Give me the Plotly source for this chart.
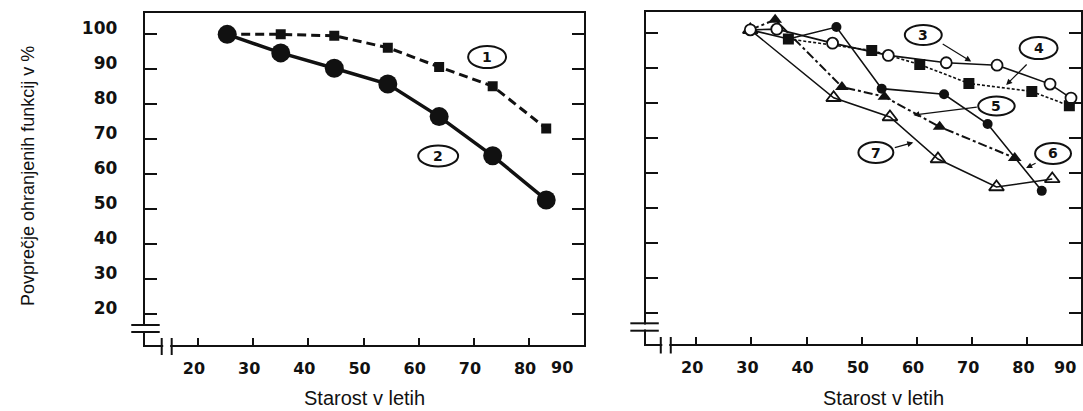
import plotly.graph_objects as go

# ---------------- data ----------------
# Left panel
AGE_L1 = [25.3, 35.0, 44.7, 54.4, 63.7, 73.4, 83.1]
VAL_L1 = [100, 100, 99.6, 96.2, 90.7, 85.2, 73.1]          # (1) squares, dashed
AGE_L2 = [25.3, 35.0, 44.7, 54.4, 63.7, 73.4, 83.1]
VAL_L2 = [100, 94.7, 90.3, 85.8, 76.5, 65.3, 52.7]         # (2) big circles, solid

# Right panel
AGE_3 = [29.8, 34.6, 44.7, 54.8, 65.3, 74.5, 84.1, 87.9]
VAL_3 = [101, 101.2, 97.2, 93.7, 91.6, 90.9, 85.5, 81.5]   # (3) open circles
AGE_4 = [36.7, 51.8, 60.5, 69.4, 80.8, 87.6]
VAL_4 = [98.4, 95.1, 91.1, 85.7, 83.4, 79.3]               # (4) filled squares, dotted
AGE_5 = [29.8, 34.3, 46.4, 54.1, 64.1, 77.7]
VAL_5 = [101, 103.9, 84.7, 81.9, 73.3, 64.4]               # (5) filled triangles, dash-dot
AGE_6 = [29.8, 36.7, 45.4, 53.6, 64.9, 72.8, 82.6]
VAL_6 = [101, 98.4, 101.8, 84.2, 82.6, 74.1, 55.0]         # (6) filled circles
AGE_7 = [29.8, 44.9, 55.1, 63.8, 74.4, 84.5]
VAL_7 = [101, 81.6, 76.1, 64.1, 56.1, 58.4]                # (7) open triangles

X_TICKS = [20, 30, 40, 50, 60, 70, 80, 90]
Y_TICKS = [20, 30, 40, 50, 60, 70, 80, 90, 100]
Y_TITLE = "Povprečje ohranjenih funkcij v %"
X_TITLE = "Starost v letih"

# ---------------- layout helpers ----------------
W, H = 1083, 411
def px(x):
    return x / W
def py(y):
    return 1 - y / H

INK = "#111111"
XTICKFONT = dict(family="DejaVu Sans", size=16, color=INK, weight="bold")
YTICKFONT = dict(family="DejaVu Sans", size=17, color=INK, weight="bold")

fig = go.Figure()

# left panel traces
fig.add_trace(go.Scatter(x=AGE_L1, y=VAL_L1, mode="lines+markers",
                         line=dict(color=INK, width=3, dash="9px,5px"),
                         marker=dict(symbol="square", size=10, color=INK),
                         xaxis="x", yaxis="y"))
fig.add_trace(go.Scatter(x=AGE_L2, y=VAL_L2, mode="lines+markers",
                         line=dict(color=INK, width=3.5),
                         marker=dict(symbol="circle", size=19, color=INK),
                         xaxis="x", yaxis="y"))

# right panel traces
fig.add_trace(go.Scatter(x=AGE_7, y=VAL_7, mode="lines+markers",
                         line=dict(color=INK, width=1.5),
                         marker=dict(symbol="triangle-up-open", size=13, color=INK, line=dict(width=1.8)),
                         xaxis="x2", yaxis="y2"))
fig.add_trace(go.Scatter(x=AGE_5, y=VAL_5, mode="lines+markers",
                         line=dict(color=INK, width=2, dash="dashdot"),
                         marker=dict(symbol="triangle-up", size=12, color=INK),
                         xaxis="x2", yaxis="y2"))
fig.add_trace(go.Scatter(x=AGE_4, y=VAL_4, mode="lines+markers",
                         line=dict(color=INK, width=1.6, dash="3px,2px"),
                         marker=dict(symbol="square", size=11, color=INK),
                         xaxis="x2", yaxis="y2"))
fig.add_trace(go.Scatter(x=AGE_6, y=VAL_6, mode="lines+markers",
                         line=dict(color=INK, width=1.6),
                         marker=dict(symbol="circle", size=10, color=INK),
                         xaxis="x2", yaxis="y2"))
fig.add_trace(go.Scatter(x=AGE_3, y=VAL_3, mode="lines+markers",
                         line=dict(color=INK, width=1.6),
                         marker=dict(symbol="circle", size=11, color="white", line=dict(color=INK, width=1.8)),
                         xaxis="x2", yaxis="y2"))

x_common = dict(showgrid=False, zeroline=False, showline=True, linecolor=INK, linewidth=2,
                mirror=True, ticks="inside", ticklen=7, tickwidth=2, tickcolor=INK,
                tickmode="array", tickvals=X_TICKS[:-1], ticktext=[str(v) for v in X_TICKS[:-1]],
                tickfont=XTICKFONT, ticklabelstandoff=8, ticklabelshift=-4, fixedrange=True)
y_common = dict(showgrid=False, zeroline=False, showline=True, linecolor=INK, linewidth=2,
                mirror="ticks", ticks="inside", ticklen=12, tickwidth=2, tickcolor=INK,
                tickmode="array", tickvals=Y_TICKS, ticktext=[str(v) for v in Y_TICKS],
                tickfont=YTICKFONT, range=[11.25, 106.1], fixedrange=True)

fig.update_layout(
    width=W, height=H, margin=dict(l=0, r=0, t=0, b=0),
    paper_bgcolor="white", plot_bgcolor="white", showlegend=False,
    xaxis=dict(x_common, domain=[px(145), px(585)], range=[10.36, 89.93], anchor="y"),
    yaxis=dict(y_common, domain=[py(345), py(13)], anchor="x",
               ticklabelstandoff=22, ticklabelshift=-6),
    xaxis2=dict(x_common, domain=[px(647.5), 1.0], range=[10.96, 89.71], anchor="y2"),
    yaxis2=dict(y_common, domain=[py(344), py(12)], anchor="x2", showticklabels=False),
)

shapes = []
def seg(x0, y0, x1, y1, w=2):
    shapes.append(dict(type="line", xref="paper", yref="paper", x0=px(x0), y0=py(y0),
                       x1=px(x1), y1=py(y1), line=dict(color=INK, width=w), layer="above"))
def white(x0, y0, x1, y1):
    shapes.append(dict(type="rect", xref="paper", yref="paper", x0=px(x0), y0=py(y1),
                       x1=px(x1), y1=py(y0), fillcolor="white", line=dict(width=0), layer="above"))

# axis breaks, left panel
white(139, 326, 151, 331)
seg(131.5, 325, 160, 325)
seg(131.5, 332, 160, 332)
white(163.5, 342, 170.5, 348)
seg(162, 338, 162, 355)
seg(172, 338, 172, 355)
# axis breaks, right panel
white(641, 324.5, 654, 329.5)
seg(631.5, 323.3, 660, 323.3)
seg(631.5, 330.7, 660, 330.7)
white(663.5, 341, 670.5, 347)
seg(662, 337, 662, 353.5)
seg(672, 337, 672, 353.5)

annotations = []
def text(t, x, y, font, angle=0):
    annotations.append(dict(text=t, x=px(x), y=py(y), xref="paper", yref="paper",
                            xanchor="center", yanchor="middle", showarrow=False,
                            textangle=angle, font=font))

# circled series numbers
LABELS = ["1", "2", "3", "4", "5", "6", "7"]
CIRCLES = [(488, 57, 19, 11), (439, 156, 20, 10.5), (925, 35, 18.5, 10), (1040.5, 48, 19, 11),
           (998.3, 106, 18.3, 9.5), (1055, 153.5, 18, 10.5), (877.5, 152.5, 17.5, 10.5)]
NUMFONT = dict(family="DejaVu Sans", size=14, color=INK, weight="bold")
for lab, (cx, cy, rx, ry) in zip(LABELS, CIRCLES):
    shapes.append(dict(type="circle", xref="paper", yref="paper", x0=px(cx - rx), x1=px(cx + rx),
                       y0=py(cy + ry), y1=py(cy - ry), line=dict(color=INK, width=2),
                       fillcolor="white", layer="above"))
    text(lab, cx, cy, NUMFONT)

# pointer arrows (tail -> tip)
ARROWS = [((943, 43), (973, 61.5)), ((1030, 63), (1008, 85)), ((980, 107), (915, 115)),
          ((1039, 162.5), (1028, 168)), ((895, 148), (915, 142.5))]
for (tx, ty), (hx, hy) in ARROWS:
    annotations.append(dict(text="", x=px(hx), y=py(hy), xref="paper", yref="paper",
                            ax=tx - hx, ay=ty - hy, showarrow=True, arrowhead=2,
                            arrowsize=1, arrowwidth=1.2, arrowcolor=INK))

# last x tick label ("90") for each panel
for cx in (563, 1067):
    text(str(X_TICKS[-1]), cx, 367, XTICKFONT)

# axis titles
text(Y_TITLE, 28, 176, dict(family="Liberation Sans", size=18, color=INK), angle=-90)
for cx in (365, 885):
    text(X_TITLE, cx, 398, dict(family="Liberation Sans", size=20, color=INK))

fig.update_layout(shapes=shapes, annotations=annotations)
fig.write_html("out.html", config={"displayModeBar": False},
               post_script="document.body.style.margin='0';document.body.style.overflow='hidden';")
